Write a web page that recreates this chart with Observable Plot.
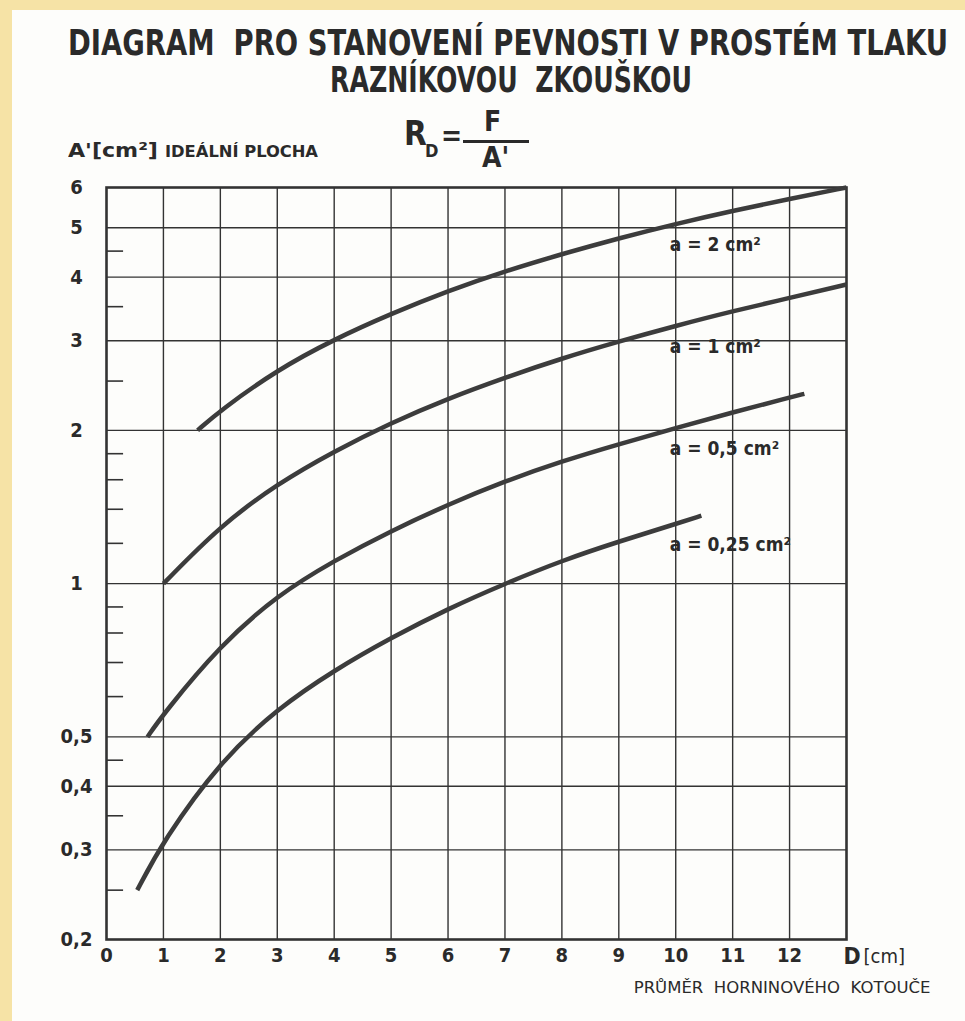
<!DOCTYPE html>
<html>
<head>
<meta charset="utf-8">
<script src="https://cdn.jsdelivr.net/npm/d3@7"></script>
<script src="https://cdn.jsdelivr.net/npm/@observablehq/plot@0.6"></script>
<style>
  html, body { margin: 0; padding: 0; }
  body { width: 965px; height: 1021px; background: #f6e3a6; position: relative; overflow: hidden;
         font-family: "DejaVu Sans Condensed", "DejaVu Sans", sans-serif; color: #2a2a2a; }
  #paper { position: absolute; left: 12px; top: 10px; right: 0; bottom: 0; background: #fdfdfb; }
  .t { position: absolute; white-space: nowrap; line-height: 1; display: inline-block; transform-origin: left center; }
  #chart { position: absolute; left: 0; top: 160px; }
</style>
</head>
<body>
<div id="paper"></div>
<div class="t" id="title1" data-fit="880" style="left:68px; top:25px; font-size:36px; font-weight:bold;">DIAGRAM&nbsp; PRO STANOVENÍ PEVNOSTI V PROSTÉM TLAKU</div>
<div class="t" id="title2" data-fit="362" style="left:330px; top:62px; font-size:36px; font-weight:bold;">RAZNÍKOVOU&nbsp; ZKOUŠKOU</div>
<div class="t" style="left:404px; top:117px; font-size:33px; font-weight:bold;">R</div>
<div class="t" style="left:425px; top:142px; font-size:18px; font-weight:bold;">D</div>
<div class="t" style="left:441px; top:122px; font-size:28px; font-weight:bold;">=</div>
<div class="t" style="left:484px; top:108px; font-size:28px; font-weight:bold;">F</div>
<div style="position:absolute; left:463px; top:140px; width:66px; height:3px; background:#2a2a2a;"></div>
<div class="t" style="left:482px; top:144px; font-size:28px; font-weight:bold;">A'</div>
<div class="t" data-fit="90" style="left:68px; top:140px; font-size:20px; font-weight:bold;">A'[cm²]</div>
<div class="t" data-fit="153" style="left:165px; top:145px; font-size:15px; font-weight:bold;">IDEÁLNÍ PLOCHA</div>
<div id="chart"></div>
<script>
// ---- data ----
const seriesNames = ["a = 2 cm²", "a = 1 cm²", "a = 0,5 cm²", "a = 0,25 cm²"];

const D_a2   = [1.6, 2, 3, 4, 5, 6, 7, 8, 9, 10, 11, 12, 13];
const A_a2   = [2.0, 2.19, 2.63, 3.02, 3.39, 3.76, 4.11, 4.44, 4.77, 5.09, 5.40, 5.70, 6.0];

const D_a1   = [1.0, 2, 3, 4, 5, 6, 7, 8, 9, 10, 11, 12, 13];
const A_a1   = [1.0, 1.30, 1.57, 1.82, 2.07, 2.31, 2.54, 2.77, 2.99, 3.21, 3.43, 3.64, 3.87];

const D_a05  = [0.72, 1, 2, 3, 4, 5, 6, 7, 8, 9, 10, 11, 12, 12.26];
const A_a05  = [0.5, 0.555, 0.757, 0.949, 1.11, 1.27, 1.43, 1.59, 1.74, 1.88, 2.02, 2.17, 2.32, 2.36];

const D_a025 = [0.54, 1, 2, 3, 4, 5, 6, 7, 8, 9, 10, 10.45];
const A_a025 = [0.25, 0.313, 0.448, 0.568, 0.676, 0.783, 0.893, 1.0, 1.11, 1.21, 1.31, 1.36];

const xTicks  = [0, 1, 2, 3, 4, 5, 6, 7, 8, 9, 10, 11, 12];
const xGrid   = [1, 2, 3, 4, 5, 6, 7, 8, 9, 10, 11, 12];
const yLabels = [0.2, 0.3, 0.4, 0.5, 1, 2, 3, 4, 5, 6];
const yGrid   = [0.3, 0.4, 0.5, 1, 2, 3, 4, 5];
const yMinor  = [0.25, 0.35, 0.45, 0.6, 0.7, 0.8, 0.9, 1.2, 1.4, 1.6, 1.8, 2.5, 3.5, 4.5];
const xUnit   = "[cm]";
const xSymbol = "D";
const xTitle  = "PRŮMĚR  HORNINOVÉHO  KOTOUČE";
const labelAtD = 10;

// ---- build table ----
const seriesD = [D_a2, D_a1, D_a05, D_a025];
const seriesA = [A_a2, A_a1, A_a05, A_a025];
const table = [];
seriesNames.forEach((name, i) => {
  seriesD[i].forEach((d, j) => table.push({series: name, D: d, A: seriesA[i][j]}));
});

const ink = "#333333";
const xMax = 13, yMin = 0.2;

const chart = Plot.plot({
  width: 965,
  height: 850,
  marginLeft: 106,
  marginRight: 119,
  marginTop: 27,
  marginBottom: 71,
  x: {domain: [0, 13]},
  y: {type: "log", domain: [0.2, 6]},
  style: {fontFamily: '"DejaVu Sans Condensed", "DejaVu Sans", sans-serif', color: "#2a2a2a", background: "transparent", overflow: "visible"},
  marks: [
    Plot.ruleX(xGrid, {stroke: ink, strokeWidth: 1.4}),
    Plot.ruleY(yGrid, {stroke: ink, strokeWidth: 1.4}),
    Plot.ruleY(yMinor, {x1: () => 0, x2: () => 0.3, stroke: ink, strokeWidth: 1.6}),
    Plot.frame({stroke: ink, strokeWidth: 2.6}),
    Plot.line(table, {x: "D", y: "A", z: "series", stroke: "#3c3c3c", strokeWidth: 4.5, curve: "basis", strokeLinecap: "butt"}),
    Plot.text(table.filter(d => d.D === labelAtD), {x: "D", y: "A", text: "series", dy: 21, dx: -6, textAnchor: "start", fontSize: 19, fill: "#2a2a2a", fontWeight: "bold"}),
    Plot.axisX({ticks: xTicks, tickSize: 0, tickPadding: 8, tickFormat: d => String(d), fontSize: 20, fontWeight: "bold", label: null, textAnchor: "middle"}),
    Plot.axisY({ticks: yLabels, tickSize: 0, tickPadding: 30, tickFormat: d => String(d).replace(".", ","), fontSize: 20, fontWeight: "bold", label: null, textAnchor: "middle"}),
    Plot.text([xSymbol], {x: () => xMax, y: () => yMin, text: d => d, dy: 17, dx: -3, textAnchor: "start", fontSize: 23, fontWeight: "bold"}),
    Plot.text([xUnit], {x: () => xMax, y: () => yMin, text: d => d, dy: 17, dx: 17, textAnchor: "start", fontSize: 20}),
    Plot.text([xTitle], {x: () => xMax, y: () => yMin, text: d => d, dy: 48, dx: 84, textAnchor: "end", fontSize: 16.5, fontFamily: '"DejaVu Sans", sans-serif'})
  ]
});
document.getElementById("chart").appendChild(chart);

// fit hand-lettered headings to their widths in the reference
document.querySelectorAll("[data-fit]").forEach(el => {
  const target = +el.dataset.fit;
  const w = el.getBoundingClientRect().width;
  el.style.transform = `scaleX(${target / w})`;
});
</script>
</body>
</html>
